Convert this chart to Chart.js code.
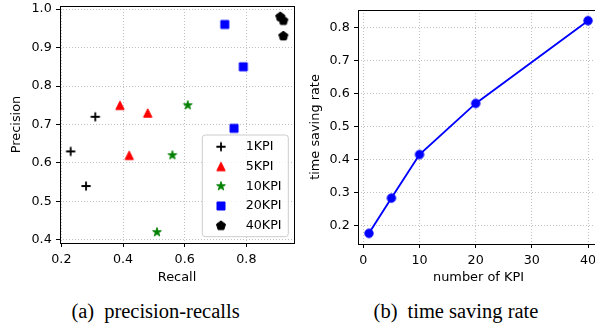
<!DOCTYPE html>
<html>
<head>
<meta charset="utf-8">
<script src="https://cdn.jsdelivr.net/npm/chart.js@4.4.1/dist/chart.umd.min.js"></script>
<style>
    html, body { margin: 0; padding: 0; background: #fff; }
    body { width: 595px; height: 326px; position: relative; overflow: hidden; }
    .panel { position: absolute; top: 0; height: 290px; }
    #panelA { left: 0; width: 300px; }
    #panelB { left: 300px; width: 320px; }
    .caption {
        position: absolute;
        top: 299px;
        transform: translateX(-50%);
        font-family: 'Liberation Serif', 'Times New Roman', serif;
        font-size: 20.5px;
        line-height: 24px;
        white-space: nowrap;
        color: #000;
    }
    .caption span { margin-right: 10px; }
    #capA { left: 155.5px; }
    #capB { left: 456px; }
</style>
</head>
<body>
<div class="panel" id="panelA"><canvas id="prChart" width="300" height="290"></canvas></div>
<div class="panel" id="panelB"><canvas id="timeChart" width="320" height="290"></canvas></div>
<div class="caption" id="capA"><span>(a)</span>precision-recalls</div>
<div class="caption" id="capB"><span>(b)</span>time saving rate</div>

<script>
// (a) precision / recall per KPI group
const kpiGroups = ['1KPI', '5KPI', '10KPI', '20KPI', '40KPI'];
const recall1 = [0.23, 0.31, 0.28];
const precision1 = [0.63, 0.72, 0.54];
const recall5 = [0.39, 0.48, 0.42];
const precision5 = [0.75, 0.73, 0.62];
const recall10 = [0.61, 0.56, 0.51];
const precision10 = [0.75, 0.62, 0.42];
const recall20 = [0.73, 0.79, 0.76];
const precision20 = [0.96, 0.85, 0.69];
const recall40 = [0.91, 0.92, 0.92];
const precision40 = [0.98, 0.97, 0.93];
const recallTicks = [0.2, 0.4, 0.6, 0.8];
const precisionTicks = [0.4, 0.5, 0.6, 0.7, 0.8, 0.9, 1.0];

// (b) time saving rate
const kpiCounts = [1, 5, 10, 20, 40];
const savingRates = [0.177, 0.284, 0.416, 0.571, 0.822];
const kpiTicks = [0, 10, 20, 30, 40];
const rateTicks = [0.2, 0.3, 0.4, 0.5, 0.6, 0.7, 0.8];

Chart.defaults.font.family = "'DejaVu Sans', sans-serif";
Chart.defaults.font.size = 12.7;
Chart.defaults.color = '#000';

// matplotlib-like markers drawn on small canvases
function makeMarker(draw) {
    const c = document.createElement('canvas');
    c.width = 16;
    c.height = 16;
    const ctx = c.getContext('2d');
    ctx.translate(8, 8);
    draw(ctx);
    return c;
}

function polygon(ctx, pts, color) {
    ctx.beginPath();
    pts.forEach((p, i) => i ? ctx.lineTo(p[0], p[1]) : ctx.moveTo(p[0], p[1]));
    ctx.closePath();
    ctx.fillStyle = color;
    ctx.strokeStyle = color;
    ctx.lineWidth = 1;
    ctx.fill();
    ctx.stroke();
}

const plusMarker = makeMarker(ctx => {
    ctx.strokeStyle = '#000';
    ctx.lineWidth = 1.8;
    ctx.beginPath();
    ctx.moveTo(-4.6, 0); ctx.lineTo(4.6, 0);
    ctx.moveTo(0, -4.6); ctx.lineTo(0, 4.6);
    ctx.stroke();
});
const triangleMarker = makeMarker(ctx => {
    polygon(ctx, [[0, -4.2], [-4.2, 4.2], [4.2, 4.2]], '#ff0000');
});
const starMarker = makeMarker(ctx => {
    const pts = [];
    for (let i = 0; i < 10; i++) {
        const r = i % 2 ? 1.75 : 4.6;
        const a = -Math.PI / 2 + i * Math.PI / 5;
        pts.push([r * Math.cos(a), r * Math.sin(a)]);
    }
    polygon(ctx, pts, '#008000');
});
const squareMarker = makeMarker(ctx => {
    polygon(ctx, [[-4, -4], [4, -4], [4, 4], [-4, 4]], '#0000ff');
});
const pentagonMarker = makeMarker(ctx => {
    const pts = [];
    for (let i = 0; i < 5; i++) {
        const a = -Math.PI / 2 + i * 2 * Math.PI / 5;
        pts.push([4.8 * Math.cos(a), 4.8 * Math.sin(a)]);
    }
    polygon(ctx, pts, '#000');
});
const circleMarker = makeMarker(ctx => {
    ctx.beginPath();
    ctx.arc(0, 0, 4.2, 0, Math.PI * 2);
    ctx.fillStyle = '#0000ff';
    ctx.strokeStyle = '#0000ff';
    ctx.lineWidth = 1;
    ctx.fill();
    ctx.stroke();
});

// full box around the plot area
const spinePlugin = {
    id: 'spines',
    afterDraw(chart) {
        const { ctx, chartArea: a } = chart;
        ctx.save();
        ctx.strokeStyle = '#000';
        ctx.lineWidth = 1;
        ctx.strokeRect(a.left + 0.5, a.top + 0.5, a.right - a.left, a.bottom - a.top);
        ctx.restore();
    }
};

// legend box in the lower right of the plot area
const boxLegendPlugin = {
    id: 'boxLegend',
    afterDraw(chart) {
        const { ctx, chartArea: a } = chart;
        const w = 86, h = 101.7, r = 3;
        const x = a.right - 5.7 - w, y = a.bottom - 6.3 - h;
        ctx.save();
        ctx.beginPath();
        ctx.moveTo(x + r, y);
        ctx.arcTo(x + w, y, x + w, y + h, r);
        ctx.arcTo(x + w, y + h, x, y + h, r);
        ctx.arcTo(x, y + h, x, y, r);
        ctx.arcTo(x, y, x + w, y, r);
        ctx.closePath();
        ctx.fillStyle = 'rgba(255,255,255,0.8)';
        ctx.fill();
        ctx.strokeStyle = '#cccccc';
        ctx.lineWidth = 1;
        ctx.stroke();
        ctx.font = "12.7px 'DejaVu Sans'";
        ctx.fillStyle = '#000';
        ctx.textBaseline = 'middle';
        chart.data.datasets.forEach((ds, i) => {
            const cy = y + 11.7 + i * 19.75;
            const img = ds.pointStyle;
            ctx.drawImage(img, x + 18.7 - img.width / 2, cy - img.height / 2);
            ctx.fillText(ds.label, x + 43.4, cy);
        });
        ctx.restore();
    }
};

function axisGrid() {
    return {
        color: '#b0b0b0',
        lineWidth: 0.8,
        drawTicks: true,
        tickLength: 4,
        tickColor: '#000',
        tickWidth: 1
    };
}

function fixedTicks(list) {
    return s => { s.ticks = list.map(v => ({ value: v })); };
}

function fixedSize(prop, size) {
    return s => {
        s[prop] = size;
        s.paddingLeft = 0; s.paddingRight = 0;
        s.paddingTop = 0; s.paddingBottom = 0;
    };
}

const recallSets = [recall1, recall5, recall10, recall20, recall40];
const precisionSets = [precision1, precision5, precision10, precision20, precision40];
const markers = [plusMarker, triangleMarker, starMarker, squareMarker, pentagonMarker];

new Chart(document.getElementById('prChart'), {
    type: 'scatter',
    data: {
        datasets: kpiGroups.map((label, i) => ({
            label: label,
            data: recallSets[i].map((r, j) => ({ x: r, y: precisionSets[i][j] })),
            pointStyle: markers[i],
            pointRadius: 5,
            pointHoverRadius: 5
        }))
    },
    options: {
        responsive: false,
        animation: false,
        layout: { padding: { top: 4, right: 1, left: 0, bottom: 0 } },
        scales: {
            x: {
                type: 'linear',
                min: 0.1955,
                max: 0.9545,
                afterBuildTicks: fixedTicks(recallTicks),
                afterFit: fixedSize('height', 47),
                ticks: { padding: 5, callback: v => v.toFixed(1) },
                grid: axisGrid(),
                border: { display: false, dash: [1, 2] },
                title: { display: true, text: 'Recall', font: { size: 12.9 }, padding: { top: 0, bottom: 4.4 } }
            },
            y: {
                type: 'linear',
                min: 0.392,
                max: 1.008,
                afterBuildTicks: fixedTicks(precisionTicks),
                afterFit: fixedSize('width', 60),
                ticks: { padding: 4.3, callback: v => v.toFixed(1) },
                grid: axisGrid(),
                border: { display: false, dash: [1, 2] },
                title: { display: true, text: 'Precision', font: { size: 12.9 }, padding: { top: 9.3, bottom: 0 } }
            }
        },
        plugins: {
            legend: { display: false },
            tooltip: { enabled: false }
        }
    },
    plugins: [spinePlugin, boxLegendPlugin]
});

// the right panel runs past the page edge, as in the original figure
new Chart(document.getElementById('timeChart'), {
    type: 'line',
    data: {
        datasets: [{
            label: 'time saving rate',
            data: kpiCounts.map((k, i) => ({ x: k, y: savingRates[i] })),
            borderColor: '#0000ff',
            borderWidth: 1.9,
            pointStyle: circleMarker,
            pointRadius: 5,
            pointHoverRadius: 5,
            tension: 0,
            fill: false
        }]
    },
    options: {
        responsive: false,
        animation: false,
        layout: { padding: { top: 10, right: 21, left: 0, bottom: 0 } },
        scales: {
            x: {
                type: 'linear',
                min: -0.95,
                max: 41.95,
                afterBuildTicks: fixedTicks(kpiTicks),
                afterFit: fixedSize('height', 46),
                ticks: { padding: 5, callback: v => String(v) },
                grid: axisGrid(),
                border: { display: false, dash: [1, 2] },
                title: { display: true, text: 'number of KPI', font: { size: 12.9 }, padding: { top: 0, bottom: 4.4 } }
            },
            y: {
                type: 'linear',
                min: 0.1447,
                max: 0.8543,
                afterBuildTicks: fixedTicks(rateTicks),
                afterFit: fixedSize('width', 58),
                ticks: { padding: 4.3, callback: v => v.toFixed(1) },
                grid: axisGrid(),
                border: { display: false, dash: [1, 2] },
                title: { display: true, text: 'time saving rate', font: { size: 12.9 }, padding: { top: 8.4, bottom: 0 } }
            }
        },
        plugins: {
            legend: { display: false },
            tooltip: { enabled: false }
        }
    },
    plugins: [spinePlugin]
});
</script>
</body>
</html>
